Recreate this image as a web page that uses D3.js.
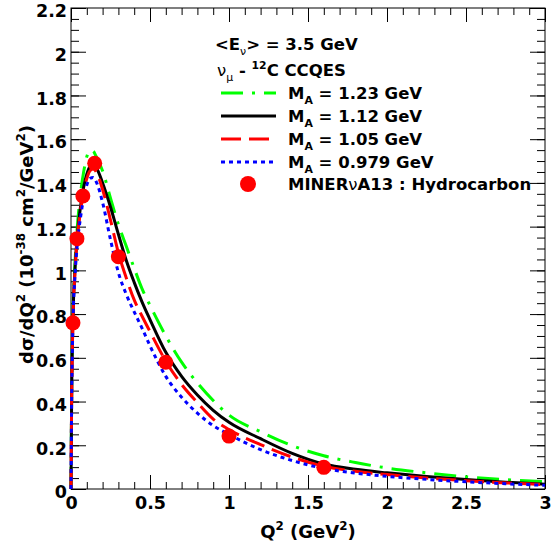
<!DOCTYPE html>
<html><head><meta charset="utf-8">
<script src="https://cdn.jsdelivr.net/npm/d3@7/dist/d3.min.js"></script>
<style>
body{margin:0;background:#fff}
svg{display:block}
text{font-family:"DejaVu Sans",sans-serif;font-weight:bold;fill:#000}
</style>
</head><body>
<svg id="c" width="551" height="554"></svg>
<script>
// ---------- data ----------
const q2Grid   = [0, 0.004, 0.0125, 0.025, 0.04, 0.06, 0.08, 0.1, 0.12, 0.14, 0.16, 0.2, 0.25, 0.3, 0.35, 0.4, 0.45, 0.5, 0.6, 0.7, 0.8, 0.9, 1.0, 1.2, 1.4, 1.6, 1.8, 2.0, 2.25, 2.5, 2.75, 3.0];
const xsMA123  = [0, 0.42, 0.80, 1.03, 1.20, 1.35, 1.45, 1.52, 1.548, 1.545, 1.52, 1.455, 1.33, 1.21, 1.11, 1.01, 0.915, 0.84, 0.70, 0.58, 0.485, 0.405, 0.338, 0.262, 0.198, 0.152, 0.121, 0.096, 0.074, 0.056, 0.043, 0.033];
const xsMA112  = [0, 0.41, 0.78, 1.00, 1.16, 1.29, 1.38, 1.44, 1.475, 1.485, 1.47, 1.40, 1.29, 1.165, 1.045, 0.945, 0.855, 0.775, 0.625, 0.515, 0.43, 0.36, 0.305, 0.23, 0.163, 0.114, 0.09, 0.074, 0.057, 0.043, 0.031, 0.022];
const xsMA105  = [0, 0.40, 0.77, 0.99, 1.15, 1.27, 1.36, 1.42, 1.455, 1.465, 1.45, 1.37, 1.23, 1.08, 0.965, 0.865, 0.79, 0.72, 0.585, 0.478, 0.395, 0.32, 0.272, 0.203, 0.146, 0.104, 0.081, 0.066, 0.05, 0.038, 0.028, 0.02];
const xsMA0979 = [0, 0.39, 0.76, 0.97, 1.12, 1.24, 1.33, 1.39, 1.42, 1.425, 1.405, 1.31, 1.14, 0.99, 0.89, 0.81, 0.735, 0.655, 0.515, 0.42, 0.347, 0.29, 0.25, 0.18, 0.13, 0.094, 0.073, 0.058, 0.044, 0.033, 0.024, 0.017];
const dataQ2   = [0.0125, 0.0375, 0.075, 0.15, 0.3, 0.6, 1.0, 1.6];
const dataXS   = [0.76, 1.145, 1.34, 1.49, 1.062, 0.58, 0.242, 0.099];
const seriesMA = ["1.23", "1.12", "1.05", "0.979"];
const xMajorTicks = [0, 0.5, 1, 1.5, 2, 2.5, 3];
const xTickLabels = ["0", "0.5", "1", "1.5", "2", "2.5", "3"];
const yMajorTicks = [0, 0.2, 0.4, 0.6, 0.8, 1, 1.2, 1.4, 1.6, 1.8, 2, 2.2];
const yTickLabels = ["0", "0.2", "0.4", "0.6", "0.8", "1", "1.2", "1.4", "1.6", "1.8", "2", "2.2"];
const xMinorTicks = d3.range(0, 31).map(i => i / 10);
const yMinorTicks = d3.range(0, 45).map(i => i / 20);

// ---------- styles ----------
const styles = [
  {color: "#00ff00", dash: "22,9,3,9"},
  {color: "#000000", dash: null},
  {color: "#ff0000", dash: "20,8"},
  {color: "#0000ff", dash: "4,4"}
];
const series = [xsMA123, xsMA112, xsMA105, xsMA0979];

const L = 71, R = 545, T = 8, B = 489;
const svg = d3.select("#c");
const x = d3.scaleLinear().domain([0, 3]).range([L, R]);
const y = d3.scaleLinear().domain([0, 2.2]).range([B, T]);

// ---------- axes ----------
function axis(gen, vals, size, labels, tx, ty, pad) {
  const a = gen.tickValues(vals).tickSize(-size).tickSizeOuter(0).tickPadding(pad || 3)
    .tickFormat(labels ? ((d, i) => labels[i]) : "");
  const g = svg.append("g").attr("transform", `translate(${tx},${ty})`).call(a);
  g.select(".domain").remove();
  g.selectAll("line").attr("stroke", "#000").attr("stroke-width", 1);
  return g;
}
axis(d3.axisBottom(x), xMinorTicks, 7, null, 0, B);
axis(d3.axisTop(x), xMinorTicks, 7, null, 0, T);
axis(d3.axisTop(x), xMajorTicks, 14, null, 0, T);
const gx = axis(d3.axisBottom(x), xMajorTicks, 14, xTickLabels, 0, B, 8);
gx.selectAll("text").attr("font-size", 17.5).attr("font-family", "DejaVu Sans").attr("font-weight", "bold").attr("dy", "0.71em");
axis(d3.axisLeft(y), yMinorTicks, 8, null, L, 0);
axis(d3.axisRight(y), yMinorTicks, 8, null, R, 0);
axis(d3.axisRight(y), yMajorTicks, 15, null, R, 0);
const gy = axis(d3.axisLeft(y), yMajorTicks, 15, yTickLabels, L, 0, 4);
gy.selectAll("text").attr("font-size", 17.5).attr("font-family", "DejaVu Sans").attr("font-weight", "bold").attr("dy", "0.5em");

svg.append("rect").attr("x", L).attr("y", T).attr("width", R - L).attr("height", B - T)
  .attr("fill", "none").attr("stroke", "#000").attr("stroke-width", 1);

// ---------- curves ----------
const line = d3.line().x(d => x(d[0])).y(d => y(d[1])).curve(d3.curveMonotoneX);
series.forEach((s, i) => {
  svg.append("path").datum(q2Grid.map((q, j) => [q, s[j]]))
    .attr("d", line).attr("fill", "none")
    .attr("stroke", styles[i].color).attr("stroke-width", 3)
    .attr("stroke-dasharray", styles[i].dash);
});

// ---------- data points ----------
svg.append("g").selectAll("circle").data(dataQ2.map((q, i) => [q, dataXS[i]])).join("circle")
  .attr("cx", d => x(d[0])).attr("cy", d => y(d[1])).attr("r", 7.5).attr("fill", "#ff0000");

// ---------- rich text helper ----------
function rich(sel, parts, size) {
  let shift = 0;
  parts.forEach(p => {
    const target = p.sup ? -size * 0.42 : p.sub ? size * 0.28 : 0;
    sel.append("tspan").attr("dy", target - shift)
      .attr("font-size", (p.sup || p.sub) ? size * 0.66 : size)
      .attr("font-weight", p.normal ? "normal" : "bold")
      .text(p.t);
    shift = target;
  });
}

// ---------- legend ----------
const fs = 16.5;
rich(svg.append("text").attr("x", 215).attr("y", 50),
  [{t: "<E"}, {t: "ν", sub: true, normal: true}, {t: "> = 3.5 GeV"}], fs);
rich(svg.append("text").attr("x", 217).attr("y", 76),
  [{t: "ν", normal: true}, {t: "μ", sub: true, normal: true}, {t: " - "}, {t: "12", sup: true}, {t: "C CCQES"}], fs);
const rowY = [93, 116, 139, 162];
seriesMA.forEach((m, i) => {
  svg.append("line").attr("x1", 221).attr("x2", 276).attr("y1", rowY[i]).attr("y2", rowY[i])
    .attr("stroke", styles[i].color).attr("stroke-width", 3).attr("stroke-dasharray", styles[i].dash);
  rich(svg.append("text").attr("x", 288).attr("y", rowY[i] + 6),
    [{t: "M"}, {t: "A", sub: true}, {t: " = " + m + " GeV"}], fs);
});
svg.append("circle").attr("cx", 248).attr("cy", 184).attr("r", 8).attr("fill", "#ff0000");
rich(svg.append("text").attr("x", 288).attr("y", 190),
  [{t: "MINER"}, {t: "ν", normal: true}, {t: "A13 : Hydrocarbon"}], fs);

// ---------- axis titles ----------
rich(svg.append("text").attr("x", (L + R) / 2).attr("y", 538).attr("text-anchor", "middle"),
  [{t: "Q"}, {t: "2", sup: true}, {t: " (GeV"}, {t: "2", sup: true}, {t: ")"}], 18);
rich(svg.append("text").attr("transform", `translate(33,${(T + B) / 2 - 4}) rotate(-90)`).attr("text-anchor", "middle"),
  [{t: "dσ/dQ"}, {t: "2", sup: true}, {t: " (10"}, {t: "-38", sup: true}, {t: " cm"}, {t: "2", sup: true}, {t: "/GeV"}, {t: "2", sup: true}, {t: ")"}], 18);
</script>
</body></html>
